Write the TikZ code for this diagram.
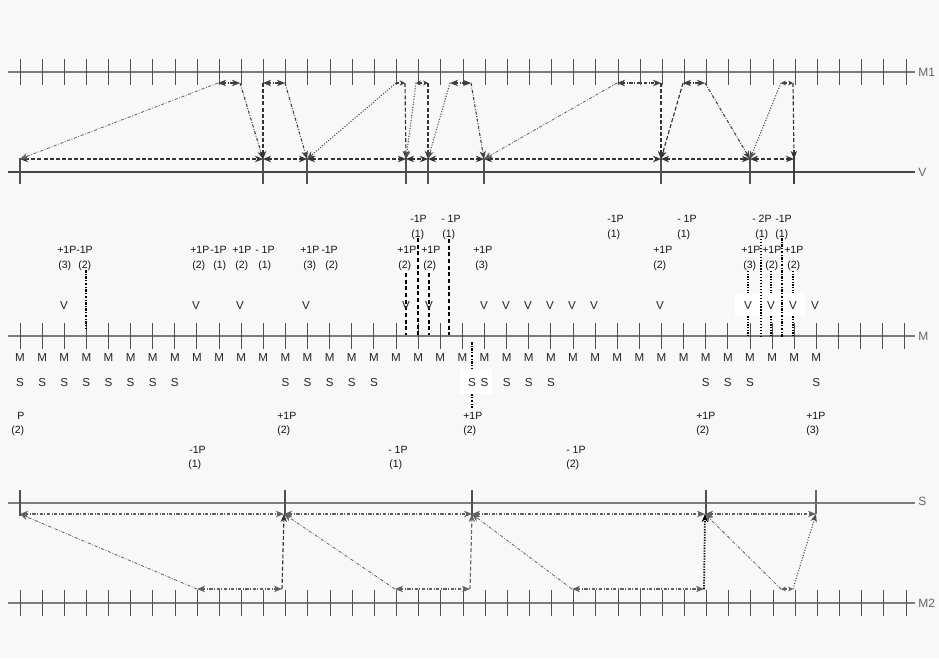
\documentclass[tikz,border=0pt]{standalone}
\usepackage{fontspec}
\setmainfont{Liberation Sans}
\usetikzlibrary{arrows.meta}
\definecolor{bgc}{RGB}{248,248,248}
\definecolor{axc}{RGB}{125,125,125}
\definecolor{tkc}{RGB}{80,80,80}
\definecolor{txc}{RGB}{20,20,20}
\definecolor{rlc}{RGB}{100,100,100}
\tikzset{
  >={Stealth[length=6pt,width=4.8pt,inset=1.8pt]},
  smallhead/.style={{Stealth[length=3.6pt,width=3.6pt,inset=1pt]}-{Stealth[length=3.6pt,width=3.6pt,inset=1pt]}},
  axisln/.style={line width=1.1pt, axc},
  vaxis/.style={line width=0.9pt, black!72},
  tickln/.style={line width=0.7pt, tkc},
  lbl/.style={font=\fontsize{7.9}{9}\selectfont, text=txc, inner sep=0pt, anchor=west},
  ltr/.style={font=\fontsize{8.7}{10}\selectfont, text=black!85, inner sep=0pt},
  rlab/.style={font=\fontsize{9}{10}\selectfont, text=rlc, inner sep=0pt, anchor=west},
  dsh/.style={line width=0.85pt, black!80, dash pattern=on 3pt off 1.6pt},
  ddt/.style={line width=0.8pt, black!75, dash pattern=on 2.4pt off 1.2pt on 0.6pt off 1.2pt},
  gdd/.style={line width=0.6pt, black!62, dash pattern=on 2.4pt off 1.2pt on 0.6pt off 1.2pt},
  dtt/.style={line width=0.8pt, black!70, dash pattern=on 0.8pt off 1.2pt},
  evd/.style={line width=1.1pt, black, dash pattern=on 3pt off 2pt},
  evdd/.style={line width=1.2pt, black, dash pattern=on 2pt off 1pt on 0.8pt off 1pt},
  evdt/.style={line width=1.3pt, black, dash pattern=on 1pt off 1pt},
  evdt2/.style={line width=1pt, black, dash pattern=on 0.9pt off 1.3pt},
}
\begin{document}
\begin{tikzpicture}[x=0.75pt,y=-0.75pt]
\fill[bgc] (0,0) rectangle (939,658);
\useasboundingbox (0,0) rectangle (939,658);

% ================= M1 / V =================
\coordinate (m1a) at (8,72); \coordinate (m1b) at (915,72);
\draw[axisln] (m1a) -- (m1b);
\node[rlab] (m1lab) at (918,72) {M1};
\foreach \k in {0,...,40} \draw[tickln] ({20+22.15*\k},59) -- ({20+22.15*\k},85);

\coordinate (vla) at (8,172); \coordinate (vlb) at (915,172);
\draw[vaxis] (vla) -- (vlb);
\node[rlab] (vlab) at (918,172) {V};
\foreach \x in {20,263,307,406,428,484,661,750} \draw[tickln, line width=0.8pt] (\x,158) -- (\x,184);
\draw[line width=1.6pt, black!75] (794,150) -- (794,184);

\foreach \n/\x in {1/20,2/263,3/307,4/406,5/428,6/484,7/661,8/750,9/794}
  \coordinate (v\n) at (\x,159);
\foreach \n/\x/\y in {1/218/240,2/263/285,3/396/405,4/416/428,5/450/471,6/617/661,7/683/705,8/781/793}
  {\coordinate (a\n) at (\x,83); \coordinate (b\n) at (\y,83);}

\foreach \i/\j in {1/2,2/3,3/4,4/5,5/6,6/7,7/8,8/9}
  \draw[dsh,<->] (v\i) -- (v\j);

\foreach \i in {1,2,5,6,7}
  \draw[ddt,<->] (a\i) -- (b\i);
\draw[ddt,-{Stealth[length=4pt,width=4pt,inset=1.2pt]}] (a3) -- (b3);
\draw[ddt,smallhead] (a4) -- (b4);
\draw[ddt,smallhead] (a8) -- (b8);

\draw[gdd,->] (a1) -- (v1);
\draw[ddt,->] (b1) -- (v2);
\draw[dsh,->] (a2) -- (v2);
\draw[ddt,->] (b2) -- (v3);
\draw[dtt,->] (a3) -- (v3);
\draw[dsh,->] (b3) -- (v4);
\draw[dtt,->] (a4) -- (v4);
\draw[dsh,->] (b4) -- (v5);
\draw[dtt,->] (a5) -- (v5);
\draw[ddt,->] (b5) -- (v6);
\draw[gdd,->] (a6) -- (v6);
\draw[dsh,->] (b6) -- (v7);
\draw[dsh,->] (a7) -- (v7);
\draw[ddt,->] (b7) -- (v8);
\draw[dtt,->] (a8) -- (v8);
\draw[dsh,->] (b8) -- (v9);

% ================= middle M =================
\coordinate (mla) at (8,336); \coordinate (mlb) at (915,336);
\draw[axisln] (mla) -- (mlb);
\node[rlab] (mlab) at (918,336) {M};
\foreach \k in {0,...,40} \draw[tickln] ({20+22.12*\k},323) -- ({20+22.12*\k},349);
\foreach \k in {0,...,36} \node[ltr] (M\k) at ({20+22.12*\k},357) {M};

% event lines
\coordinate (e1t) at (86,270);  \coordinate (e1b) at (86,328);
\coordinate (e2t) at (406,273); \coordinate (e2b) at (406,335);
\coordinate (e3t) at (418,238); \coordinate (e3b) at (418,335);
\coordinate (e4t) at (429,273); \coordinate (e4b) at (429,335);
\coordinate (e5t) at (449,239); \coordinate (e5b) at (449,335);
\coordinate (e6t) at (472,342); \coordinate (e6b) at (472,408);
\coordinate (e7t) at (748,271); \coordinate (e7b) at (748,337);
\coordinate (e8t) at (761,239); \coordinate (e8b) at (761,336);
\coordinate (e9t) at (771,271); \coordinate (e9b) at (771,337);
\coordinate (e10t) at (782,238); \coordinate (e10b) at (782,337);
\coordinate (e11t) at (793,271); \coordinate (e11b) at (793,337);

\draw[evdd] (e1t) -- (e1b);
\draw[evd] (e2t) -- (e2b);
\draw[evd] (e3t) -- (e3b);
\draw[evd] (e4t) -- (e4b);
\draw[evd] (e5t) -- (e5b);
\draw[evdd] (e6t) -- (e6b);
\draw[evdt] (e7t) -- (e7b);
\draw[evdt] (e9t) -- (e9b);
\draw[evdt] (e11t) -- (e11b);

% white patches behind letters
\fill[white] (735,293) rectangle (805,316);
\fill[white] (460,369) rectangle (492,394);

\draw[evdt2] (e8t) -- (e8b);
\draw[evdd] (e10t) -- (e10b);

% V letters
\foreach \n/\x in {1/64,2/196,3/240,4/306,5/406,6/429,7/484,8/506,9/528,10/550,11/572,12/594,13/660,14/748,15/771,16/793,17/815}
  \node[ltr] (V\n) at (\x,306) {V};

% S letters
\foreach \k in {0,...,7,12,13,14,15,16,21,22,23,24,31,32,33,36}
  \node[ltr] (S\k) at ({20+22.12*\k},382) {S};
\node[ltr] (Sx) at (472,382) {S};

% labels above M (rows A and B)
\node[lbl] (A1)  at (57,250) {+1P};  \node[lbl] (A1b)  at (58,266) {(3)};
\node[lbl] (A2)  at (76,250) {-1P};  \node[lbl] (A2b)  at (78,266) {(2)};
\node[lbl] (A3)  at (190,250) {+1P}; \node[lbl] (A3b)  at (192,266) {(2)};
\node[lbl] (A4)  at (210,250) {-1P}; \node[lbl] (A4b)  at (213,266) {(1)};
\node[lbl] (A5)  at (232,250) {+1P}; \node[lbl] (A5b)  at (235,266) {(2)};
\node[lbl] (A6)  at (255,250) {- 1P};\node[lbl] (A6b)  at (258,266) {(1)};
\node[lbl] (A7)  at (300,250) {+1P}; \node[lbl] (A7b)  at (303,266) {(3)};
\node[lbl] (A8)  at (321,250) {-1P}; \node[lbl] (A8b)  at (325,266) {(2)};
\node[lbl] (A9)  at (397,250) {+1P}; \node[lbl] (A9b)  at (398,266) {(2)};
\node[lbl] (A10) at (421,250) {+1P}; \node[lbl] (A10b) at (423,266) {(2)};
\node[lbl] (A11) at (473,250) {+1P}; \node[lbl] (A11b) at (475,266) {(3)};
\node[lbl] (A12) at (653,250) {+1P}; \node[lbl] (A12b) at (653,266) {(2)};
\node[lbl] (A13) at (741,250) {+1P}; \node[lbl] (A13b) at (743,266) {(3)};
\node[lbl] (A14) at (762,250) {+1P}; \node[lbl] (A14b) at (765,266) {(2)};
\node[lbl] (A15) at (784,250) {+1P}; \node[lbl] (A15b) at (787,266) {(2)};

\node[lbl] (B1) at (410,219) {-1P};  \node[lbl] (B1b) at (411,235) {(1)};
\node[lbl] (B2) at (441,219) {- 1P}; \node[lbl] (B2b) at (442,235) {(1)};
\node[lbl] (B3) at (607,219) {-1P};  \node[lbl] (B3b) at (607,235) {(1)};
\node[lbl] (B4) at (677,219) {- 1P}; \node[lbl] (B4b) at (677,235) {(1)};
\node[lbl] (B5) at (752,219) {- 2P}; \node[lbl] (B5b) at (755,235) {(1)};
\node[lbl] (B6) at (775,219) {-1P};  \node[lbl] (B6b) at (775,235) {(1)};

% labels below M
\node[lbl] (C1) at (17,416) {P};     \node[lbl] (C1b) at (11,431) {(2)};
\node[lbl] (C2) at (277,416) {+1P};  \node[lbl] (C2b) at (277,431) {(2)};
\node[lbl] (C3) at (463,416) {+1P};  \node[lbl] (C3b) at (463,431) {(2)};
\node[lbl] (C4) at (696,416) {+1P};  \node[lbl] (C4b) at (696,431) {(2)};
\node[lbl] (C5) at (806,416) {+1P};  \node[lbl] (C5b) at (806,431) {(3)};
\node[lbl] (D1) at (189,450) {-1P};  \node[lbl] (D1b) at (188,465) {(1)};
\node[lbl] (D2) at (388,450) {- 1P}; \node[lbl] (D2b) at (389,465) {(1)};
\node[lbl] (D3) at (566,450) {- 1P}; \node[lbl] (D3b) at (566,465) {(2)};

% ================= S / M2 =================
\coordinate (sla) at (8,503); \coordinate (slb) at (915,503);
\draw[axisln] (sla) -- (slb);
\node[rlab] (slab) at (918,501) {S};
\foreach \x in {20,285,472,706} \draw[tickln, line width=0.8pt] (\x,490) -- (\x,516);
\draw[line width=1.6pt, black!60] (816,490) -- (816,514);

\coordinate (m2a) at (8,603); \coordinate (m2b) at (915,603);
\draw[axisln] (m2a) -- (m2b);
\node[rlab] (m2lab) at (918,603) {M2};
\foreach \k in {0,...,40} \draw[tickln] ({20+22.15*\k},590) -- ({20+22.15*\k},616);

\foreach \n/\x in {1/20,2/284,3/472,4/705,5/816}
  \coordinate (s\n) at (\x,514);
\foreach \n/\x/\y in {1/197/282,2/395/470,3/572/704,4/781/793}
  {\coordinate (c\n) at (\x,589); \coordinate (d\n) at (\y,589);}

\foreach \i/\j in {1/2,2/3,3/4,4/5}
  \draw[ddt,black!62,<->] (s\i) -- (s\j);
\foreach \i in {1,2,3}
  \draw[ddt,black!62,<->] (c\i) -- (d\i);
\draw[ddt,black!62,smallhead] (c4) -- (d4);

\draw[gdd,->] (c1) -- (s1);
\draw[dsh,->] (d1) -- (s2);
\draw[gdd,->] (c2) -- (s2);
\draw[dsh,black!60,->] (d2) -- (s3);
\draw[gdd,->] (c3) -- (s3);
\draw[evdt,->] (d3) -- (s4);
\draw[gdd,->] (c4) -- (s4);
\draw[dtt,->] (d4) -- (s5);
\end{tikzpicture}
\end{document}
